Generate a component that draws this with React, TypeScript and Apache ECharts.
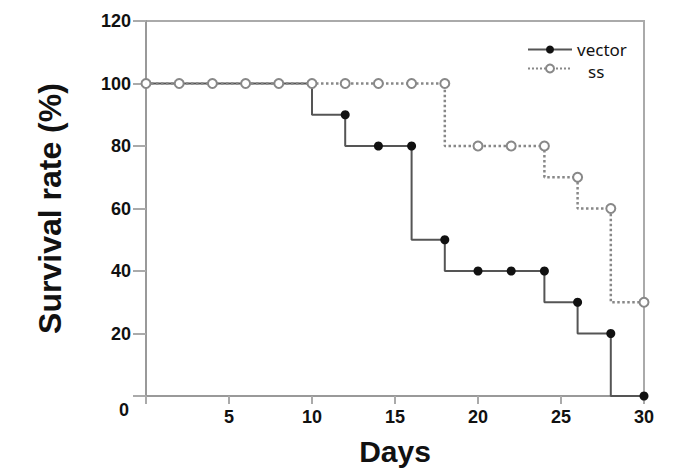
import React, { useEffect, useRef } from "react";
import * as echarts from "echarts";

const days = [0, 2, 4, 6, 8, 10, 12, 14, 16, 18, 20, 22, 24, 26, 28, 30];
const vectorValues = [100, 100, 100, 100, 100, 100, 90, 80, 80, 50, 40, 40, 40, 30, 20, 0];
const ssValues = [100, 100, 100, 100, 100, 100, 100, 100, 100, 100, 80, 80, 80, 70, 60, 30];
const seriesNames = ["vector", "ss"];
const yTicks = [0, 20, 40, 60, 80, 100, 120];
const xTicks = [0, 5, 10, 15, 20, 25, 30];

const FONT = "'Liberation Sans', Arial, sans-serif";
const LEGEND_FONT = "'Noto Sans', sans-serif";

export default function App() {
  const ref = useRef<HTMLDivElement>(null);
  useEffect(() => {
    if (!ref.current) return;
    const chart = echarts.init(ref.current, undefined, { renderer: "svg" });
    const vData = days.map((d, i) => [d, vectorValues[i]]);
    const sData = days.map((d, i) => [d, ssValues[i]]);
    chart.setOption({
      animation: false,
      backgroundColor: "#fff",
      grid: {
        left: 146,
        right: 51,
        top: 21,
        bottom: 79,
        show: true,
        borderColor: "#aaa",
        borderWidth: 2,
      },
      legend: {
        orient: "vertical",
        left: 522,
        top: 36,
        itemWidth: 44,
        itemHeight: 10,
        itemGap: 5,
        textStyle: {
          fontFamily: LEGEND_FONT,
          fontSize: 17,
          color: "#111",
          rich: {
            s: {
              fontFamily: LEGEND_FONT,
              fontSize: 17,
              color: "#111",
              padding: [6, 0, 0, 11],
            },
          },
        },
        data: seriesNames,
        formatter: (name: string) => (name === "ss" ? "{s|ss}" : name),
      },
      xAxis: {
        type: "value",
        min: xTicks[0],
        max: xTicks[xTicks.length - 1],
        interval: 5,
        name: "Days",
        nameLocation: "middle",
        nameGap: 40,
        nameTextStyle: { fontFamily: FONT, fontWeight: "bold", fontSize: 30, color: "#111" },
        axisLine: { lineStyle: { color: "#999", width: 2 } },
        axisTick: { show: true, length: 8, lineStyle: { color: "#aaa", width: 2 } },
        splitLine: { show: false },
        axisLabel: {
          margin: 12,
          fontFamily: FONT,
          fontWeight: "bold",
          fontSize: 18,
          color: "#111",
          formatter: (v: number) => (v === 0 ? "" : String(v)),
        },
      },
      yAxis: {
        type: "value",
        min: yTicks[0],
        max: yTicks[yTicks.length - 1],
        interval: 20,
        name: "Survival rate (%)",
        nameLocation: "middle",
        nameGap: 80,
        nameTextStyle: { fontFamily: FONT, fontWeight: "bold", fontSize: 32, color: "#111" },
        axisLine: { show: true, lineStyle: { color: "#999", width: 2 } },
        axisTick: { show: true, length: 13, lineStyle: { color: "#aaa", width: 2 } },
        splitLine: { show: false },
        axisLabel: {
          margin: 15,
          fontFamily: FONT,
          fontWeight: "bold",
          fontSize: 18,
          color: "#111",
          formatter: (v: number) => (v === 0 ? "" : String(v)),
        },
      },
      graphic: [
        {
          type: "text",
          x: 129,
          y: 410,
          style: {
            text: "0",
            fontFamily: FONT,
            fontWeight: "bold",
            fontSize: 18,
            fill: "#111",
            align: "right",
            verticalAlign: "middle",
          },
        },
      ],
      series: [
        {
          name: seriesNames[0],
          type: "line",
          step: "start",
          data: vData,
          symbol: "circle",
          symbolSize: 9,
          z: 2,
          itemStyle: { color: "#111" },
          lineStyle: { color: "#555", width: 2 },
        },
        {
          name: seriesNames[1],
          type: "line",
          step: "start",
          data: sData,
          symbol: "emptyCircle",
          symbolSize: 9,
          z: 3,
          itemStyle: { color: "#888", borderWidth: 1.5 },
          lineStyle: { color: "#888", width: 2.5, type: "dotted" },
        },
      ],
    });
    return () => chart.dispose();
  }, []);
  return <div ref={ref} style={{ width: 695, height: 475, position: "absolute", left: 0, top: 0 }} />;
}
